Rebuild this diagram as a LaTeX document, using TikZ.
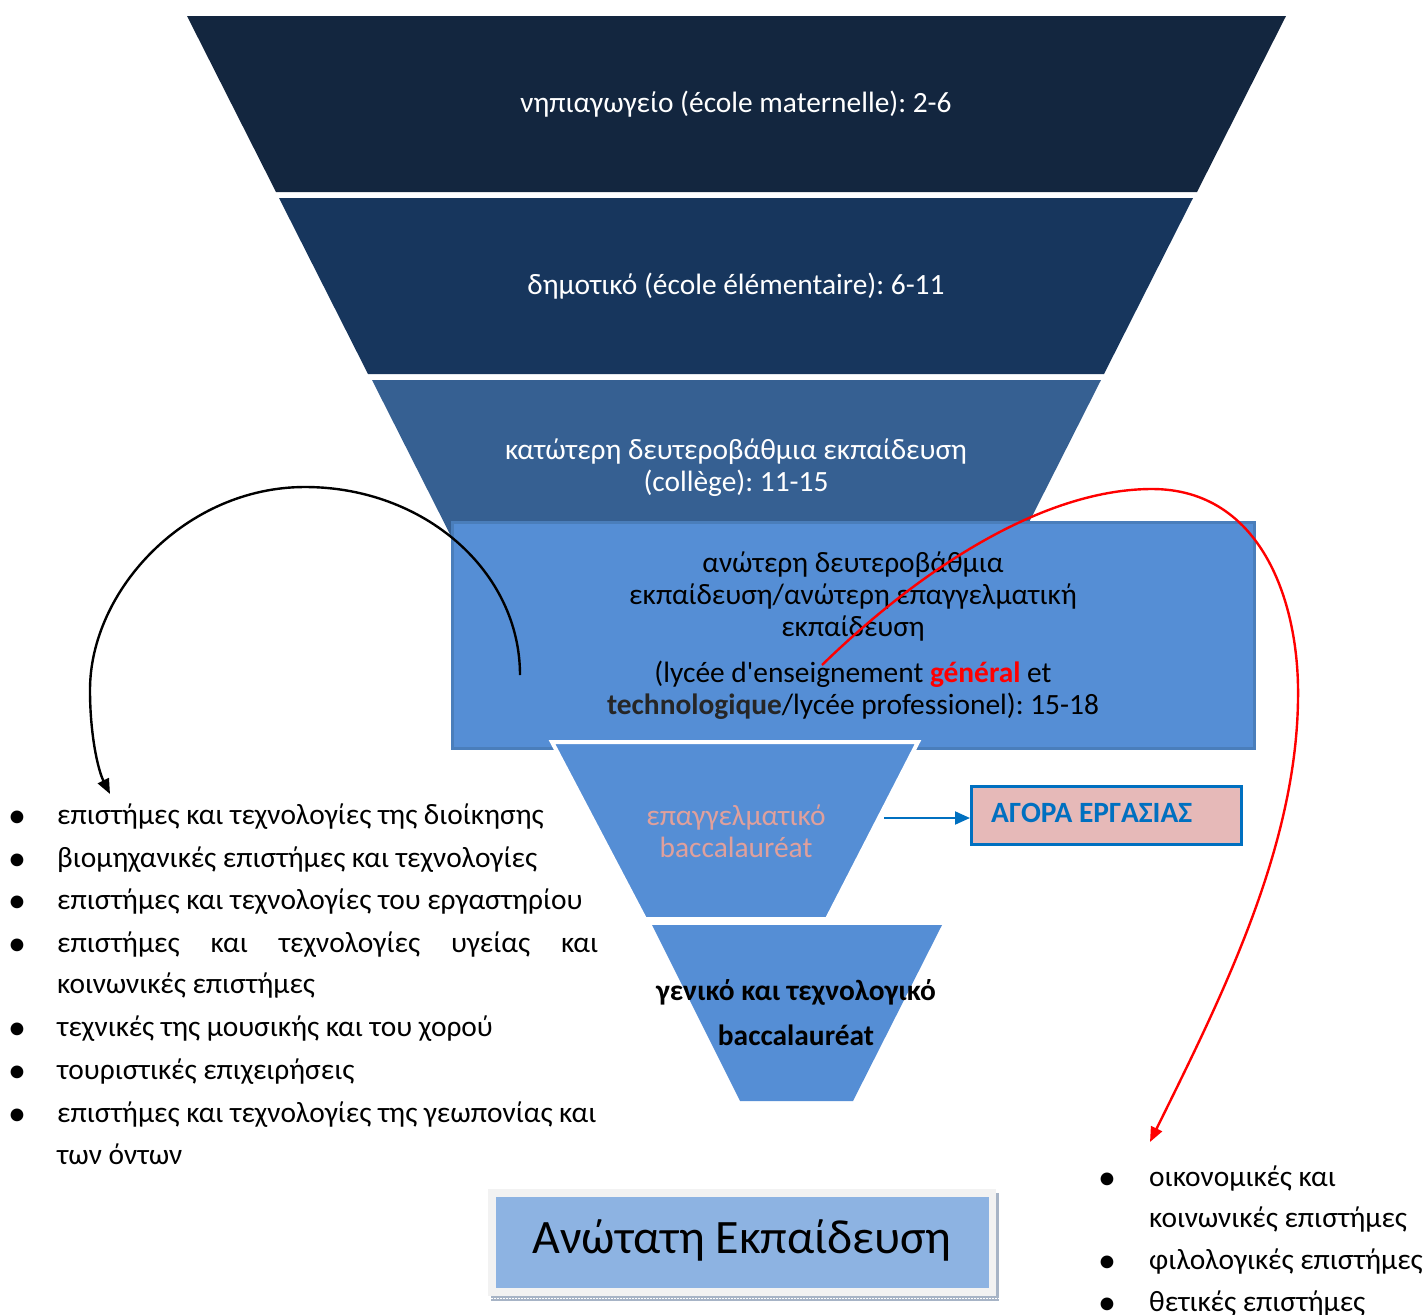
\documentclass[tikz,border=0pt]{standalone}
\usepackage{fontspec}
\setmainfont{Carlito}[Ligatures=TeXOff]
\usetikzlibrary{arrows.meta}
\definecolor{cA}{HTML}{13263F}
\definecolor{cB}{HTML}{17365D}
\definecolor{cC}{HTML}{366092}
\definecolor{cD}{HTML}{558ED5}
\definecolor{cDb}{HTML}{4A7EBB}
\definecolor{salmon}{HTML}{E0A09C}
\definecolor{agfill}{HTML}{E6B9B8}
\definecolor{agblue}{HTML}{0070C0}
\definecolor{anfill}{HTML}{8DB3E2}
\definecolor{angray}{HTML}{F2F2F2}
\definecolor{stripc}{HTML}{A7B4C6}
\definecolor{dgray}{HTML}{262626}
\frenchspacing
\begin{document}
\begin{tikzpicture}[x=1pt,y=-1pt,
  lvl/.style={font=\fontsize{29.4}{32}\selectfont, align=center, inner sep=0},
  item/.style={font=\fontsize{29.4}{32}\selectfont, anchor=mid west, inner sep=0},
  bul/.style={font=\fontsize{36}{32}\selectfont, anchor=mid, inner sep=0},
  arc/.style={line width=2.4pt, -{Triangle[length=15pt,width=12pt]}},
]
\useasboundingbox (0,0) rectangle (1428,1315);
\fill[white] (0,0) rectangle (1428,1315);

% funnel levels
\fill[cA] (187,16) -- (1286,16) -- (1197,192) -- (276,192) -- cycle;
\fill[cB] (279,198) -- (1193,198) -- (1104,374) -- (368,374) -- cycle;
\fill[cC] (372,380) -- (1101,380) -- (1012,556) -- (461,556) -- cycle;
\node[lvl, text=white] (l1) at (736,104) {νηπιαγωγείο (école maternelle): 2-6};
\node[lvl, text=white] (l2) at (736,286) {δημοτικό (école élémentaire): 6-11};
\node[lvl, text=white] (l3) at (736,468) {κατώτερη δευτεροβάθμια εκπαίδευση\\(collège): 11-15};

% upper secondary rectangle
\filldraw[fill=cD, draw=cDb, line width=3pt] (452,522) rectangle (1254,748);
\node[lvl] (l4a) at (853,597) {ανώτερη δευτεροβάθμια\\εκπαίδευση/ανώτερη επαγγελματική\\εκπαίδευση};
\node[lvl] (l4b) at (853,690) {(lycée d'enseignement \textcolor{red}{\bfseries général} et\\{\bfseries\color{dgray}technologique}/lycée professionel): 15-18};

% baccalaureat trapezoids
\filldraw[fill=cD, draw=white, line width=4pt, line join=miter] (552,742) -- (918,742) -- (827,919) -- (645,919) -- cycle;
\fill[cD] (652,925) -- (942,925) -- (853,1101) -- (740,1101) -- cycle;
\node[lvl, text=salmon] (l5) at (736,831) {επαγγελματικό\\baccalauréat};
\node[lvl, font=\fontsize{29.4}{45}\selectfont\bfseries] (l6) at (796,1013) {γενικό και τεχνολογικό\\baccalauréat};

% job market
\node[draw=agblue, fill=agfill, line width=2.5pt, minimum width=270pt, minimum height=58pt,
      inner sep=0, anchor=north west] (agora) at (970,785) {};
\node[font=\fontsize{29.4}{32}\selectfont\bfseries, text=agblue, anchor=mid west, inner sep=0] (agt) at (991,820) {ΑΓΟΡΑ ΕΡΓΑΣΙΑΣ};
\coordinate (t4r) at (884,818);
\draw[agblue, line width=2pt, -{Triangle[length=15pt,width=13pt]}] (t4r) -- (agora.west |- t4r);

% higher education box
\fill[stripc] (491,1296) rectangle (999,1301);
\fill[stripc] (996,1193) rectangle (999,1301);
\draw[white, line width=0.6pt, dash pattern=on 1.5pt off 1.5pt] (491,1298.5) -- (999,1298.5);
\fill[angray] (488,1189) rectangle (996,1296);
\node[fill=anfill, minimum width=493pt, minimum height=91pt, inner sep=0, anchor=north west] (hi) at (496,1197) {};
\node[font=\fontsize{48}{52}\selectfont, inner sep=0] (hit) at (742,1240) {Ανώτατη Εκπαίδευση};

% left list
\foreach \y in {815,858,900,943,1027,1070,1113} \node[bul] at (17,\y+10) {•};
\node[item] (a1) at (57,822) {επιστήμες και τεχνολογίες της διοίκησης};
\node[item] (a2) at (57,865) {βιομηχανικές επιστήμες και τεχνολογίες};
\node[item] (a3) at (57,907) {επιστήμες και τεχνολογίες του εργαστηρίου};
\node[item] (a4) at (57,950) {\hbox to 541pt{επιστήμες\hfill και\hfill τεχνολογίες\hfill υγείας\hfill και}};
\node[item] (a4b) at (57,991) {κοινωνικές επιστήμες};
\node[item] (a5) at (57,1034) {τεχνικές της μουσικής και του χορού};
\node[item] (a6) at (57,1077) {τουριστικές επιχειρήσεις};
\node[item] (a7) at (57,1120) {επιστήμες και τεχνολογίες της γεωπονίας και};
\node[item] (a7b) at (57,1162) {των όντων};

% right list
\foreach \y in {1177,1260,1302} \node[bul] at (1107,\y+10) {•};
\node[item] (b1) at (1149,1184) {οικονομικές και};
\node[item] (b1b) at (1149,1225) {κοινωνικές επιστήμες};
\node[item] (b2) at (1149,1267) {φιλολογικές επιστήμες};
\node[item] (b3) at (1149,1309) {θετικές επιστήμες};

% curved arrows
\coordinate (bs) at (520,675);
\coordinate (be) at (110,794);
\draw[arc, black] (bs) .. controls (520,571) and (424,487) .. (305,487)
   .. controls (186,487) and (90,590) .. (90,690)
   .. controls (90,735) and (98,770) .. (be);
\coordinate (rs) at (822,665);
\coordinate (re) at (1150,1142);
\draw[arc, red] (rs) .. controls (930,560) and (1050,489) .. (1152,489)
   .. controls (1260,489) and (1300,600) .. (1298,700)
   .. controls (1296,850) and (1220,1000) .. (re);
\end{tikzpicture}
\end{document}
